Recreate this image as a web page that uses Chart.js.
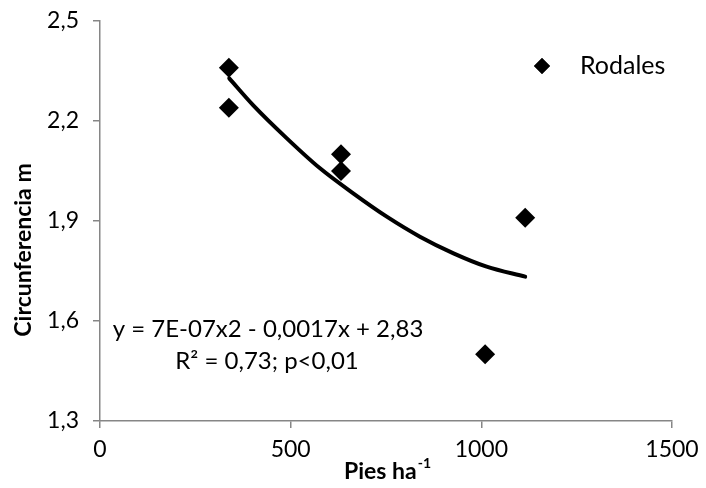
<!DOCTYPE html>
<html>
<head>
<meta charset="utf-8">
<script src="https://cdn.jsdelivr.net/npm/chart.js@4/dist/chart.umd.min.js"></script>
<style>
  html, body { margin: 0; padding: 0; background: #fff; }
  #wrap { width: 706px; height: 488px; }
</style>
</head>
<body>
<div id="wrap"><canvas id="chart" width="706" height="488"></canvas></div>
<script>
// Datos de los rodales (pies/ha, circunferencia en m)
const rodalesX = [338, 338, 632, 632, 1010, 1115];
const rodalesY = [2.36, 2.24, 2.10, 2.05, 1.50, 1.91];

// Línea de tendencia
const tendX = [339, 402, 490, 577, 664, 752, 839, 927, 1014, 1115];
const tendY = [2.328, 2.247, 2.148, 2.058, 1.983, 1.913, 1.853, 1.803, 1.763, 1.733];

const xTicks = [0, 500, 1000, 1500];
const yTicks = [1.3, 1.6, 1.9, 2.2, 2.5];

const serieNombre = 'Rodales';
const ecuacion = 'y = 7E-07x2 - 0,0017x + 2,83';
const r2Texto = 'R² = 0,73; p<0,01';

const FONT = 'Lato, "Open Sans", sans-serif';
const AXIS_COLOR = '#868686';

// Plugin para títulos de ejes, ecuación y leyenda
const extras = {
    id: 'extras',
    afterDraw(chart) {
        const ctx = chart.ctx;
        ctx.save();
        ctx.fillStyle = '#000';

        // Título eje Y
        ctx.save();
        ctx.translate(24, 250);
        ctx.rotate(-Math.PI / 2);
        ctx.font = 'bold 23px ' + FONT;
        ctx.textAlign = 'center';
        ctx.textBaseline = 'middle';
        ctx.fillText('Circunferencia m', 0, 0);
        ctx.restore();

        // Título eje X con superíndice
        ctx.font = 'bold 23px ' + FONT;
        ctx.textBaseline = 'alphabetic';
        const base = 'Pies ha';
        const wBase = ctx.measureText(base).width;
        ctx.font = 'bold 14px ' + FONT;
        const sup = '-1';
        const wSup = ctx.measureText(sup).width;
        const startX = 387 - (wBase + wSup) / 2;
        ctx.font = 'bold 23px ' + FONT;
        ctx.textAlign = 'left';
        ctx.fillText(base, startX, 479);
        ctx.font = 'bold 14px ' + FONT;
        ctx.fillText(sup, startX + wBase + 1, 468);

        // Ecuación
        ctx.font = '24px ' + FONT;
        ctx.textAlign = 'center';
        ctx.textBaseline = 'middle';
        ctx.fillText(ecuacion, 268, 329);
        ctx.fillText(r2Texto, 267, 361);

        // Leyenda
        const ds = chart.data.datasets[0];
        Chart.helpers.drawPoint(ctx, { pointStyle: 'rectRot', radius: 8, borderWidth: 0 }, 542, 66);
        ctx.fillStyle = '#000';
        ctx.fill();
        ctx.textAlign = 'left';
        ctx.font = '25px ' + FONT;
        ctx.fillText(ds.label, 580, 66);
        ctx.restore();
    }
};

new Chart(document.getElementById('chart').getContext('2d'), {
    type: 'scatter',
    data: {
        datasets: [
            {
                label: serieNombre,
                data: rodalesX.map((x, i) => ({ x: x, y: rodalesY[i] })),
                pointStyle: 'rectRot',
                pointRadius: 10,
                pointHoverRadius: 10,
                backgroundColor: '#000',
                borderColor: '#000',
                borderWidth: 0
            },
            {
                label: 'Tendencia',
                type: 'line',
                data: tendX.map((x, i) => ({ x: x, y: tendY[i] })),
                showLine: true,
                pointRadius: 0,
                borderColor: '#000',
                borderWidth: 4,
                borderCapStyle: 'round',
                cubicInterpolationMode: 'monotone',
                fill: false
            }
        ]
    },
    options: {
        responsive: false,
        animation: false,
        layout: { padding: { top: 21, right: 34, bottom: 0, left: 0 } },
        plugins: {
            legend: { display: false },
            tooltip: { enabled: false }
        },
        scales: {
            x: {
                type: 'linear',
                min: 0,
                max: 1500,
                afterFit: s => { s.height = 67; s.paddingLeft = 0; s.paddingRight = 0; },
                afterBuildTicks: s => { s.ticks = xTicks.map(v => ({ value: v })); },
                grid: { drawOnChartArea: false, drawTicks: true, tickLength: 7, color: AXIS_COLOR, lineWidth: 1.5 },
                border: { display: true, color: AXIS_COLOR, width: 1.5 },
                ticks: {
                    color: '#000',
                    font: { family: FONT, size: 23 },
                    padding: 8,
                    maxRotation: 0,
                    callback: v => String(v)
                }
            },
            y: {
                type: 'linear',
                min: 1.3,
                max: 2.5,
                afterFit: s => { s.width = 100; s.paddingTop = 0; s.paddingBottom = 0; },
                afterBuildTicks: s => { s.ticks = yTicks.map(v => ({ value: v })); },
                grid: { drawOnChartArea: false, drawTicks: true, tickLength: 7, color: AXIS_COLOR, lineWidth: 1.5 },
                border: { display: true, color: AXIS_COLOR, width: 1.5 },
                ticks: {
                    color: '#000',
                    font: { family: FONT, size: 23 },
                    padding: 14,
                    callback: v => v.toFixed(1).replace('.', ',')
                }
            }
        }
    },
    plugins: [extras]
});
</script>
</body>
</html>
